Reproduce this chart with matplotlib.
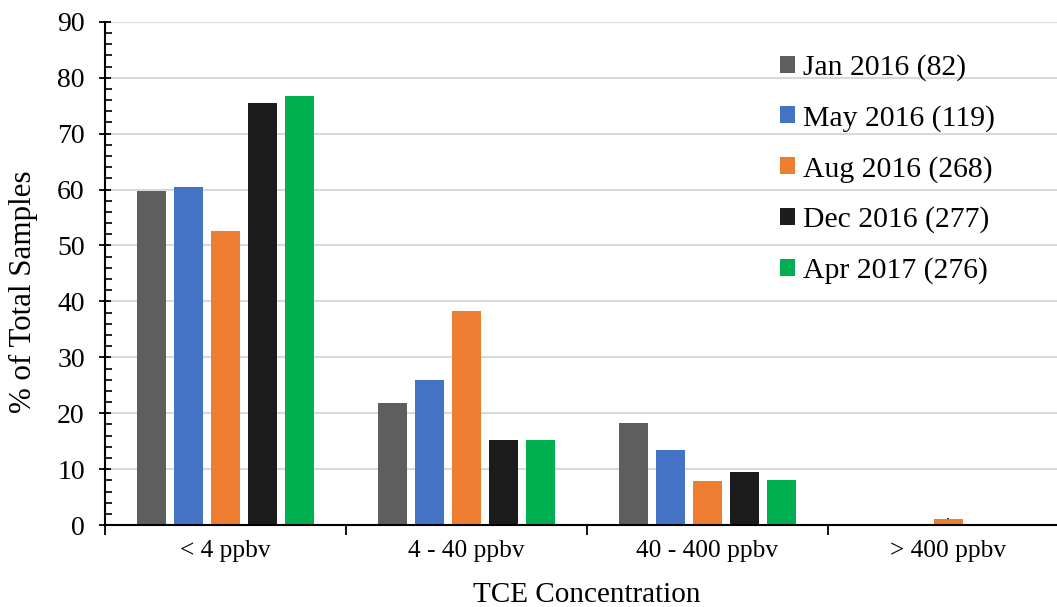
import matplotlib.pyplot as plt
import numpy as np
from matplotlib.ticker import MultipleLocator

categories = ['< 4 ppbv', '4 - 40 ppbv', '40 - 400 ppbv', '> 400 ppbv']
series = ['Jan 2016 (82)', 'May 2016 (119)', 'Aug 2016 (268)', 'Dec 2016 (277)', 'Apr 2017 (276)']
jan16 = [59.7, 21.8, 18.2, 0.0]
may16 = [60.4, 25.9, 13.4, 0.0]
aug16 = [52.6, 38.2, 7.8, 1.1]
dec16 = [75.4, 15.2, 9.4, 0.0]
apr17 = [76.8, 15.2, 8.0, 0.0]
values = [jan16, may16, aug16, dec16, apr17]
colors = ['#5e5e5e', '#4472c4', '#ed7d31', '#1c1c1c', '#00b050']

plt.rcParams['font.family'] = ['Liberation Serif', 'DejaVu Serif']

fig = plt.figure(figsize=(10.57, 6.07), dpi=100)
ax = fig.add_axes([0.0993, 0.135, 0.912, 0.829])

x = np.arange(len(categories))
pitch = 0.1535
width = 0.12
for i, (vals, name, c) in enumerate(zip(values, series, colors)):
    ax.bar(x + (i - 2) * pitch, vals, width, color=c, label=name, zorder=3)

ax.set_xlim(-0.5, 3.5)
ax.set_ylim(0, 90)
ax.yaxis.set_major_locator(MultipleLocator(10))
ax.yaxis.set_minor_locator(MultipleLocator(2))
ax.grid(axis='y', color='#d9d9d9', linewidth=1.5, zorder=0)

ax.set_xticks(x)
ax.set_xticklabels(categories)
ax.set_xticks(np.arange(-0.5, 4.0, 1.0), minor=True)

ax.tick_params(axis='y', which='major', direction='inout', length=9, width=1.3, labelsize=20, pad=10)
ax.tick_params(axis='y', which='minor', direction='in', length=5, width=1.2)
ax.tick_params(axis='x', which='major', direction='in', length=5, width=1.3, labelsize=18.3, pad=11)
ax.tick_params(axis='x', which='minor', direction='out', length=7, width=1.3)

for s in ['top', 'right']:
    ax.spines[s].set_visible(False)
for s in ['left', 'bottom']:
    ax.spines[s].set_linewidth(1.5)
    ax.spines[s].set_zorder(4)

ax.set_xlabel('TCE Concentration', fontsize=21, labelpad=14)
ax.set_ylabel('% of Total Samples', fontsize=22.3)
ax.yaxis.set_label_coords(-0.069, 0.463)

leg = ax.legend(loc='upper left', bbox_to_anchor=(0.673, 0.989), fontsize=21.4, frameon=False,
                handlelength=0.5, handleheight=0.5, handletextpad=0.25, labelspacing=0.8)

plt.savefig('out.png', dpi=100)
